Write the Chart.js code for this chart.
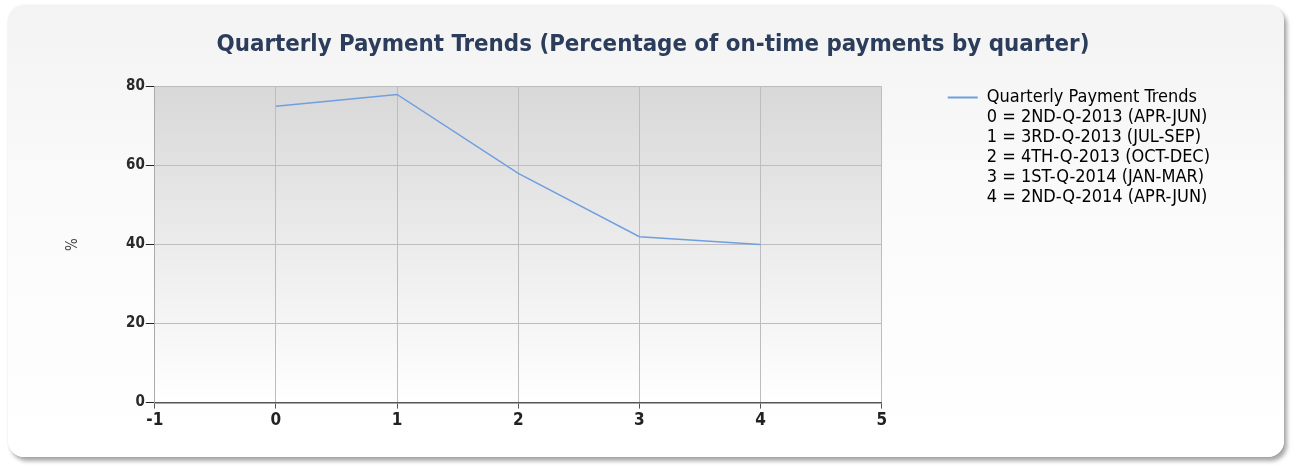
<!DOCTYPE html>
<html>
<head>
<meta charset="utf-8">
<script src="https://cdn.jsdelivr.net/npm/chart.js@4.4.1/dist/chart.umd.min.js"></script>
<style>
  html, body { margin: 0; padding: 0; background: #ffffff; width: 1296px; height: 473px; overflow: hidden; }
  #card {
    position: absolute; left: 8px; top: 5px; width: 1276px; height: 452px;
    border-radius: 16px;
    background: linear-gradient(to bottom, #f3f3f3 0%, #fafafa 40%, #ffffff 100%);
    box-shadow: 3px 4px 4px rgba(0,0,0,0.35), 0 0 2px rgba(0,0,0,0.08);
  }
  #wrap { position: absolute; left: 0; top: 0; width: 1296px; height: 473px; }
</style>
</head>
<body>
<div id="card"></div>
<div id="wrap"><canvas id="c"></canvas></div>
<script>
const titleText = "Quarterly Payment Trends (Percentage of on-time payments by quarter)";
const seriesName = "Quarterly Payment Trends";
const quarterIndex = [0, 1, 2, 3, 4];
const onTimePct = [75, 78, 58, 42, 40];
const quarterLegend = [
  "0 = 2ND-Q-2013 (APR-JUN)",
  "1 = 3RD-Q-2013 (JUL-SEP)",
  "2 = 4TH-Q-2013 (OCT-DEC)",
  "3 = 1ST-Q-2014 (JAN-MAR)",
  "4 = 2ND-Q-2014 (APR-JUN)"
];
const yAxisLabel = "%";

const FONT = "'DejaVu Sans Condensed', 'DejaVu Sans', sans-serif";

const areaBg = {
  id: 'areaBg',
  beforeDraw(chart) {
    const a = chart.chartArea, ctx = chart.ctx;
    const g = ctx.createLinearGradient(0, a.top, 0, a.bottom);
    g.addColorStop(0, '#d8d8d8');
    g.addColorStop(1, '#ffffff');
    ctx.save();
    ctx.fillStyle = g;
    ctx.fillRect(a.left, a.top, a.right - a.left, a.bottom - a.top);
    ctx.restore();
  }
};

// widen the legend box on its outer side so the title stays centred on the card
const legendRoom = {
  id: 'legendRoom',
  afterInit(chart) {
    const lg = chart.legend;
    if (!lg) return;
    const fit = lg.fit;
    lg.fit = function () { fit.call(this); this.width += 46; };
  }
};

new Chart(document.getElementById('c'), {
  type: 'line',
  data: {
    datasets: [{
      label: seriesName,
      data: quarterIndex.map((x, i) => ({ x: x, y: onTimePct[i] })),
      borderColor: '#6f9fe0',
      borderWidth: 1.5,
      pointRadius: 0,
      tension: 0,
      fill: false
    }]
  },
  plugins: [areaBg, legendRoom],
  options: {
    responsive: true,
    maintainAspectRatio: false,
    animation: false,
    devicePixelRatio: 1,
    layout: { padding: { left: 40, right: 30, top: 18, bottom: 40 } },
    plugins: {
      title: {
        display: true,
        text: titleText,
        color: '#2c3d5c',
        font: { family: FONT, size: 23.8, weight: 'bold' },
        padding: { top: 13, bottom: 27 }
      },
      legend: {
        position: 'right',
        align: 'start',
        fullSize: false,
        maxWidth: 500,
        labels: {
          color: '#222222',
          font: { family: FONT, size: 18 },
          usePointStyle: true,
          pointStyleWidth: 30,
          boxHeight: 18,
          padding: 2,
          generateLabels(chart) {
            const items = [{
              text: seriesName, pointStyle: 'line', strokeStyle: '#6f9fe0',
              fillStyle: '#6f9fe0', lineWidth: 2, datasetIndex: 0, hidden: false
            }];
            quarterLegend.forEach(t => items.push({
              text: t, pointStyle: 'line', strokeStyle: 'rgba(0,0,0,0)',
              fillStyle: 'rgba(0,0,0,0)', lineWidth: 0, hidden: false
            }));
            return items;
          }
        },
        onClick: () => {}
      },
      tooltip: { enabled: false }
    },
    scales: {
      x: {
        type: 'linear',
        min: -1, max: 5,
        ticks: { stepSize: 1, color: '#222', font: { family: FONT, size: 17, weight: 'bold' }, padding: 2 },
        grid: { color: '#bdbdbd', tickColor: '#555', tickLength: 6, drawTicks: true },
        border: { color: '#555', width: 1.5 }
      },
      y: {
        min: 0, max: 80,
        ticks: { stepSize: 20, color: '#2a2a2a', font: { family: FONT, size: 15, weight: 'bold' }, padding: 1 },
        grid: { color: '#bdbdbd', tickColor: '#222', tickLength: 9 },
        border: { color: '#aaa' },
        title: { display: true, text: yAxisLabel, color: '#444', font: { family: FONT, size: 15 }, padding: { top: 24, bottom: 43 } }
      },
      gap: {
        position: 'right',
        display: true,
        grid: { display: false, drawTicks: false },
        border: { display: false },
        ticks: { display: false },
        afterFit(s) { s.width = 64; }
      }
    }
  }
});
</script>
</body>
</html>
